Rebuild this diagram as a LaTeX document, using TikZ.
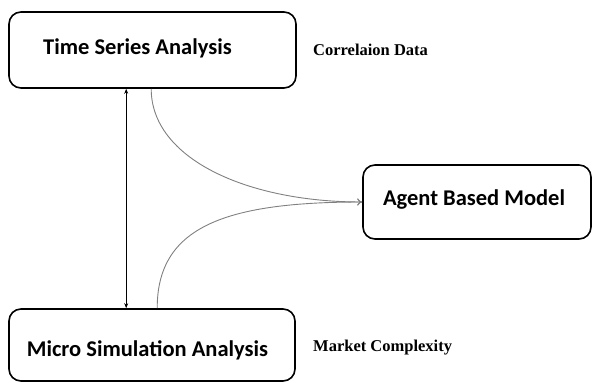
\documentclass[tikz,border=0pt]{standalone}
\usepackage{fontspec}
\newfontfamily\boxfont{Carlito}
\newfontfamily\sidefont{Liberation Serif}
\usetikzlibrary{arrows.meta}
\tikzset{
  box/.style={draw=black, line width=1.6pt, rounded corners=12pt, inner sep=0pt},
  boxtext/.style={font=\boxfont\bfseries\fontsize{22.5pt}{26pt}\selectfont, inner sep=0pt, anchor=center},
  sidetext/.style={font=\sidefont\bfseries\fontsize{16.5pt}{19pt}\selectfont, inner sep=0pt, anchor=west},
  flow/.style={draw=black!50, line width=0.9pt, -{To[length=5pt,width=7pt]}},
  link/.style={draw=black, line width=0.7pt, {Stealth[length=5pt,width=4pt]}-{Stealth[length=5pt,width=4pt]}}
}
\begin{document}
\begin{tikzpicture}[x=1pt,y=-1pt]
\useasboundingbox (0,0) rectangle (593,382);
\node[box, minimum width=287pt, minimum height=76pt] (tsa) at (152.5,50) {};
\node[box, minimum width=286pt, minimum height=72pt] (msa) at (152,345) {};
\node[box, minimum width=228pt, minimum height=74pt] (abm) at (477,202) {};
\node[boxtext] (tsat) at (137.5,48) {Time Series Analysis};
\node[boxtext] (msat) at (147.5,350) {Micro Simulation Analysis};
\node[boxtext] (abmt) at (474,200) {Agent Based Model};
\node[sidetext] (cd) at (313,50) {Correlaion Data};
\node[sidetext] (mc) at (313,348) {Market Complexity};
\coordinate (a1) at ([xshift=118pt]tsa.south west);
\coordinate (a2) at ([xshift=118pt]msa.north west);
\draw[link] (a1) -- (a2);
\coordinate (c1) at ([xshift=143pt]tsa.south west);
\coordinate (c2) at ([xshift=149pt]msa.north west);
\draw[flow] (c1) .. controls +(0,70) and +(-115,0) .. (abm.west);
\draw[flow] (c2) .. controls +(0,-80) and +(-140,0) .. (abm.west);
\end{tikzpicture}
\end{document}
